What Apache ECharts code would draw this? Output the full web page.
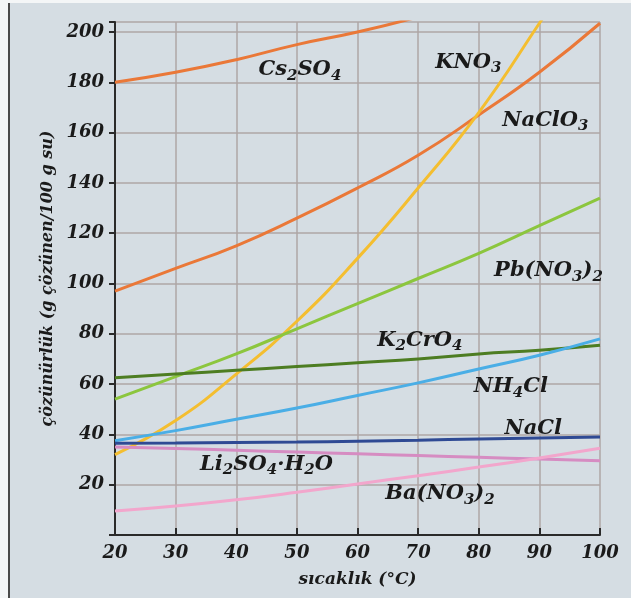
<!DOCTYPE html>
<html>
<head>
<meta charset="utf-8">
<script src="https://cdn.jsdelivr.net/npm/echarts@6/dist/echarts.min.js"></script>
<style>
  html, body { margin: 0; padding: 0; background: #f4f6f7; }
  #chart { width: 631px; height: 598px; }
</style>
</head>
<body>
<div id="chart"></div>
<script>
// temperatures (°C)
var temps = [20, 30, 40, 50, 60, 70, 80, 90, 100];

// solubility, g solute / 100 g water
var cs2so4 = [180, 184, 189, 195, 200, 206];
var kno3 = [32, 45.5, 64, 85, 110, 138, 168, 203.5, 240];
var naclo3 = [97, 106, 115, 126, 138, 151, 167, 184, 203.5];
var pbno32 = [54, 63, 72, 82, 92, 102, 112, 123, 134];
var k2cro4 = [62.5, 64, 65.5, 67, 68.5, 70, 72, 73.5, 75.5];
var nh4cl = [37.5, 41.5, 46, 50.5, 55.5, 60.5, 66, 71.5, 78];
var nacl = [36.5, 36.6, 36.8, 37, 37.3, 37.7, 38.2, 38.6, 39];
var li2so4 = [35, 34.4, 33.7, 33, 32.3, 31.6, 30.9, 30.2, 29.5];
var bano32 = [9.5, 11.5, 14, 17, 20.3, 23.6, 27, 30.6, 34.5];

// curve labels: [temp, value, rich text]
var curveLabels = [
  [50.5, 185, '{t|Cs}{s|2}{t|SO}{s|4}'],
  [78.3, 188, '{t|KNO}{s|3}'],
  [91, 165, '{t|NaClO}{s|3}'],
  [91.5, 105, '{t|Pb(NO}{s|3}{t|)}{s|2}'],
  [70.3, 77.5, '{t|K}{s|2}{t|CrO}{s|4}'],
  [85.3, 59, '{t|NH}{s|4}{t|Cl}'],
  [89, 42.5, '{t|NaCl}'],
  [45, 28, '{t|Li}{s|2}{t|SO}{s|4}{t|·H}{s|2}{t|O}'],
  [73.6, 16.3, '{t|Ba(NO}{s|3}{t|)}{s|2}']
];

var serif = 'DejaVu Serif';
var ink = '#1a1a1a';

function pairs(vals) {
  var out = [];
  for (var i = 0; i < vals.length; i++) out.push([temps[i], vals[i]]);
  return out;
}

function curve(name, vals, color) {
  return {
    name: name,
    type: 'line',
    smooth: true,
    symbol: 'none',
    data: pairs(vals),
    lineStyle: { color: color, width: 3 },
    z: 3
  };
}

var option = {
  backgroundColor: '#d5dde3',
  animation: false,
  grid: { left: 115, right: 31, top: 22, bottom: 63 },
  xAxis: {
    type: 'value',
    min: 20,
    max: 100,
    interval: 10,
    name: 'sıcaklık (°C)',
    nameLocation: 'middle',
    nameGap: 36,
    nameTextStyle: {
      fontFamily: serif, fontSize: 17, fontWeight: 'bold', fontStyle: 'italic', color: ink
    },
    axisLine: { lineStyle: { color: '#2a2a2a', width: 2 } },
    axisTick: { inside: true, length: 7, lineStyle: { color: '#2a2a2a', width: 2 } },
    axisLabel: {
      margin: 9, fontFamily: serif, fontSize: 18, fontWeight: 'bold',
      fontStyle: 'italic', color: ink
    },
    splitLine: { show: true, lineStyle: { color: '#aea6a6', width: 1.5 } }
  },
  yAxis: {
    type: 'value',
    min: 0,
    max: 204,
    interval: 20,
    name: 'çözünürlük (g çözünen/100 g su)',
    nameLocation: 'middle',
    nameRotate: 90,
    nameGap: 47,
    nameTextStyle: {
      fontFamily: serif, fontSize: 16, fontWeight: 'bold', fontStyle: 'italic', color: ink
    },
    axisLine: { show: true, lineStyle: { color: '#2a2a2a', width: 2 } },
    axisTick: { show: true, length: 6, lineStyle: { color: '#2a2a2a', width: 2 } },
    axisLabel: {
      margin: 11, fontFamily: serif, fontSize: 18, fontWeight: 'bold',
      fontStyle: 'italic', color: ink,
      formatter: function (v) { return (v > 0 && v % 20 === 0) ? v : ''; }
    },
    splitLine: { show: true, lineStyle: { color: '#aea6a6', width: 1.5 } }
  },
  graphic: [
    { type: 'rect', shape: { x: 0, y: 0, width: 631, height: 3 }, style: { fill: '#f4f6f7' } },
    { type: 'rect', shape: { x: 0, y: 0, width: 8, height: 598 }, style: { fill: '#f4f6f7' } },
    { type: 'line', shape: { x1: 9, y1: 3, x2: 9, y2: 598 }, style: { stroke: '#4a4a4a', lineWidth: 2 } }
  ],
  series: [
    curve('Cs2SO4', cs2so4, '#ea7838'),
    curve('NaClO3', naclo3, '#ea7838'),
    curve('KNO3', kno3, '#f4be30'),
    curve('Pb(NO3)2', pbno32, '#8cc63e'),
    curve('K2CrO4', k2cro4, '#4d7d22'),
    curve('NH4Cl', nh4cl, '#4aaee6'),
    curve('NaCl', nacl, '#2f4a94'),
    curve('Li2SO4·H2O', li2so4, '#d68cc2'),
    curve('Ba(NO3)2', bano32, '#f2a6cc'),
    {
      type: 'scatter',
      symbolSize: 0,
      silent: true,
      z: 5,
      itemStyle: { opacity: 1 },
      emphasis: { disabled: true },
      data: curveLabels.map(function (d) { return { value: [d[0], d[1]], text: d[2] }; }),
      label: {
        show: true,
        position: 'inside',
        color: ink,
        textBorderWidth: 0,
        opacity: 1,
        formatter: function (p) { return p.data.text; },
        rich: {
          t: { fontFamily: serif, fontSize: 21, fontWeight: 'bold', fontStyle: 'italic', color: ink,
               textBorderWidth: 0 },
          s: { fontFamily: serif, fontSize: 15, fontWeight: 'bold', fontStyle: 'italic', color: ink,
               textBorderWidth: 0, padding: [12, 0, 0, 0] }
        }
      }
    }
  ]
};

var myChart = echarts.init(document.getElementById('chart'));
myChart.setOption(option, true);
</script>
</body>
</html>
